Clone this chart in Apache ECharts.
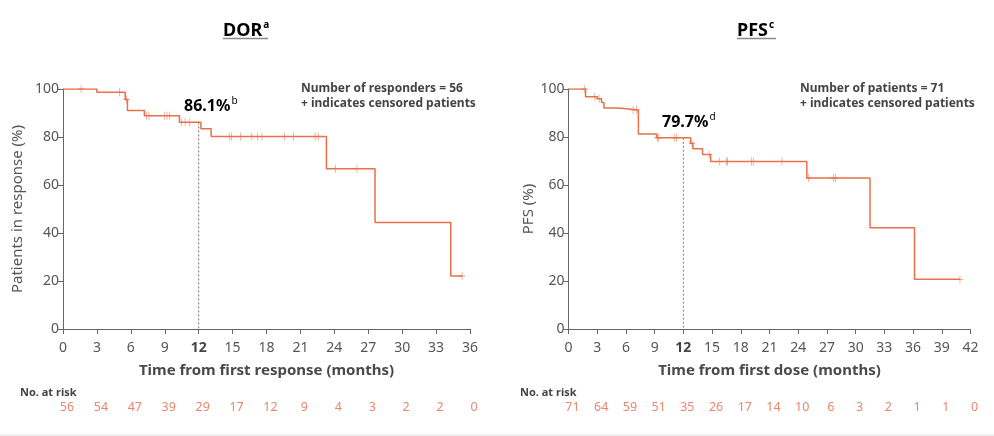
<!DOCTYPE html>
<html>
<head>
<meta charset="utf-8">
<script src="https://cdn.jsdelivr.net/npm/echarts@6/dist/echarts.min.js"></script>
<style>
html,body{margin:0;padding:0;background:#fff;}
#c{width:994px;height:436px;}
</style>
</head>
<body>
<div id="c"></div>
<script>
// ---------- DATA ----------
const dorSteps = [[0,100],[3.0,98.6],[5.5,95.6],[5.7,91.0],[7.2,88.9],[10.3,86.1],[12.2,83.4],[13.1,80.2],[23.3,66.8],[27.6,44.4],[34.3,22.1],[35.3,22.1]];
const dorCensor = [1.6,5.0,5.6,7.4,7.6,9.0,9.2,9.4,10.5,10.8,11.2,14.7,14.9,15.7,16.7,17.2,17.6,19.6,20.4,22.3,22.6,24.1,26.0,35.3];
const dorRiskTimes = [0,3,6,9,12,15,18,21,24,27,30,33,36];
const dorRisk = [56,54,47,39,29,17,12,9,4,3,2,2,0];
const dorLandmark = [12, 86.1];

const pfsSteps = [[0,100],[1.78,96.8],[3.0,95.9],[3.45,94.4],[3.7,92.1],[5.2,91.3],[7.3,81.3],[9.2,79.7],[12.75,77.4],[13.0,75.1],[14.0,72.7],[14.85,69.8],[24.9,62.9],[31.5,42.2],[36.15,20.7],[40.9,20.7]];
const pfsCensor = [1.7,2.75,3.2,6.75,7.1,9.3,9.4,11.05,11.3,12.9,14.7,15.8,16.5,16.6,19.1,19.3,22.3,25.1,27.7,27.9,40.9];
const pfsRiskTimes = [0,3,6,9,12,15,18,21,24,27,30,33,36,39,42];
const pfsRisk = [71,64,59,51,35,26,17,14,10,6,3,2,1,1,0];
const pfsLandmark = [12, 79.7];

// ---------- HELPERS ----------
function valueAt(steps, t){
  let v = steps[0][1];
  for (const s of steps){ if (s[0] <= t) v = s[1]; }
  return v;
}
const FONT = 'Noto Sans';
const ORANGE = '#E8704A';
const RISK = '#E0694A';
const GREY = '#4a4a4a';

function xAxisFor(grid, max, name){
  return {
    gridIndex: grid, type:'value', min:0, max:max, interval:3,
    name:name, nameLocation:'middle', nameGap:34,
    nameTextStyle:{fontFamily:FONT, fontSize:15, fontWeight:'bold', color:GREY},
    axisLine:{show:true, lineStyle:{color:'#666', width:1}},
    axisTick:{show:true, length:5, lineStyle:{color:'#666'}},
    splitLine:{show:false},
    axisLabel:{fontFamily:FONT, fontSize:14, color:'#555', margin:12,
      formatter:v => v===12 ? '{b|12}' : String(v),
      rich:{b:{fontFamily:FONT, fontSize:14, fontWeight:'bold', color:'#444'}}}
  };
}
function yAxisFor(grid, name, gap){
  return {
    gridIndex: grid, type:'value', min:0, max:100, interval:20,
    name:name, nameLocation:'middle', nameGap:gap,
    nameTextStyle:{fontFamily:FONT, fontSize:15, color:'#555'},
    axisLine:{show:true, lineStyle:{color:'#666', width:1}},
    axisTick:{show:true, length:5, lineStyle:{color:'#666'}},
    splitLine:{show:false},
    axisLabel:{fontFamily:FONT, fontSize:14, color:'#555', margin:4}
  };
}
function riskX(grid, max){
  return {gridIndex:grid, type:'value', min:0, max:max, show:false};
}
function riskY(grid){
  return {gridIndex:grid, type:'value', min:-1, max:1, show:false};
}

function kmSeries(xi, steps, censor, landmark){
  return [
    {type:'line', xAxisIndex:xi, yAxisIndex:xi, step:'end', data:steps,
     showSymbol:false, symbol:'none', lineStyle:{color:ORANGE, width:1.5}, z:3, silent:true},
    {type:'scatter', xAxisIndex:xi, yAxisIndex:xi,
     data:censor.map(t => [t, valueAt(steps, t)]),
     symbol:'path://M4,0H5V4H9V5H5V9H4V5H0V4H4Z', symbolSize:[6,8], itemStyle:{color:ORANGE}, z:4, silent:true},
    {type:'line', xAxisIndex:xi, yAxisIndex:xi, data:[[landmark[0], landmark[1]],[landmark[0],0]],
     showSymbol:false, symbol:'none', lineStyle:{color:'#777', width:1, type:[2,2]}, z:2, silent:true}
  ];
}
function riskSeries(xi, times, vals){
  return {type:'scatter', xAxisIndex:xi, yAxisIndex:xi,
    data: times.map((t,i) => [t, 0, vals[i]]),
    symbolSize:1, itemStyle:{color:'transparent'}, silent:true,
    label:{show:true, position:'inside', offset:[4,0], formatter:p => String(p.value[2]),
      fontFamily:FONT, fontSize:12.5, color:RISK}};
}

const chart = echarts.init(document.getElementById('c'));
const supRich = {
  m:{fontFamily:FONT, fontSize:18, fontWeight:'bold', color:'#444', lineHeight:24, verticalAlign:'bottom'},
  s:{fontFamily:FONT, fontSize:10, fontWeight:'bold', color:'#555', lineHeight:24, verticalAlign:'top', padding:[4,0,0,1]}
};
const pctRich = {
  m:{fontFamily:FONT, fontSize:16, fontWeight:'bold', color:'#444', lineHeight:20, verticalAlign:'bottom'},
  s:{fontFamily:FONT, fontSize:10, color:'#444', lineHeight:20, verticalAlign:'top', padding:[2,0,0,1]}
};
const noteStyle = {fontFamily:FONT, fontSize:12, fontWeight:'bold', fill:'#444', lineHeight:15};

chart.setOption({
  animation:false,
  backgroundColor:'#fff',
  grid:[
    {left:63, right:524, top:89, bottom:107},
    {left:568.5, right:23.5, top:89, bottom:107},
    {left:63, right:524, top:400, height:14},
    {left:568.5, right:23.5, top:400, height:14}
  ],
  xAxis:[
    xAxisFor(0, 36, 'Time from first response (months)'),
    xAxisFor(1, 42, 'Time from first dose (months)'),
    riskX(2, 36), riskX(3, 42)
  ],
  yAxis:[
    yAxisFor(0, 'Patients in response (%)', 38),
    yAxisFor(1, 'PFS (%)', 32),
    riskY(2), riskY(3)
  ],
  series:[
    ...kmSeries(0, dorSteps, dorCensor, dorLandmark),
    ...kmSeries(1, pfsSteps, pfsCensor, pfsLandmark),
    riskSeries(2, dorRiskTimes, dorRisk),
    riskSeries(3, pfsRiskTimes, pfsRisk)
  ],
  graphic:[
    {type:'text', left:223, top:16, style:{rich:supRich, text:'{m|DOR}{s|a}'}},
    {type:'line', shape:{x1:223, y1:38.5, x2:268, y2:38.5}, style:{stroke:'#8a8a8a', lineWidth:1.5}},
    {type:'text', left:737, top:16, style:{rich:supRich, text:'{m|PFS}{s|c}'}},
    {type:'line', shape:{x1:737, y1:38.5, x2:776, y2:38.5}, style:{stroke:'#8a8a8a', lineWidth:1.5}},
    {type:'text', left:301, top:81, style:Object.assign({text:'Number of responders = 56\n+ indicates censored patients'}, noteStyle)},
    {type:'text', left:800, top:81, style:Object.assign({text:'Number of patients = 71\n+ indicates censored patients'}, noteStyle)},
    {type:'text', left:184, top:94, style:{rich:pctRich, text:'{m|86.1%}{s|b}'}},
    {type:'text', left:662, top:110, style:{rich:pctRich, text:'{m|79.7%}{s|d}'}},
    {type:'text', left:20, top:387, style:{text:'No. at risk', fontFamily:FONT, fontSize:11, fontWeight:'bold', fill:'#444'}},
    {type:'text', left:520, top:387, style:{text:'No. at risk', fontFamily:FONT, fontSize:11, fontWeight:'bold', fill:'#444'}},
    {type:'line', shape:{x1:0, y1:435, x2:994, y2:435}, style:{stroke:'#e3e3e3', lineWidth:1}}
  ]
});
</script>
</body>
</html>
